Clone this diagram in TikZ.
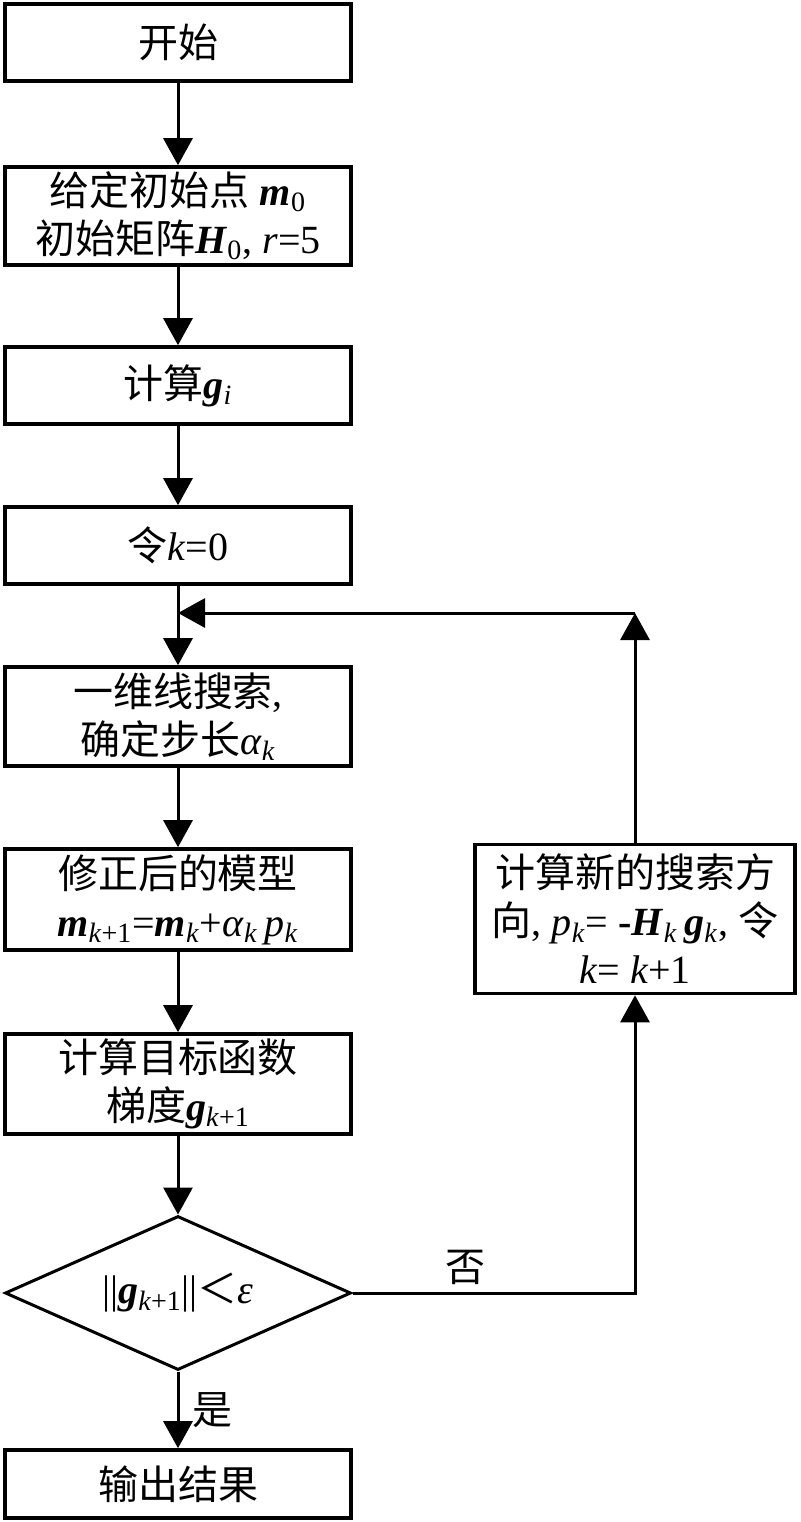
\documentclass[tikz,border=0pt]{standalone}
\usepackage{fontspec}
\setmainfont{Liberation Serif}
\newfontfamily\cjk{Noto Sans CJK SC}
\usetikzlibrary{shapes.geometric,arrows.meta}
\newcommand\zh[1]{{\cjk #1}}
\newcommand\bv[1]{\textbf{\textit{#1}}}
\newcommand\sbs[1]{\textsubscript{#1}}

\begin{document}
\begin{tikzpicture}[x=0.5pt, y=-0.5pt,
  box/.style={draw, line width=1.8pt, minimum width=173pt, align=center, inner sep=0pt, font=\fontsize{20}{24}\selectfont},
  cond/.style={box, diamond, aspect=2.24, line width=1.5pt, minimum height=77pt},
  arr/.style={line width=1.5pt, -{Triangle[length=13.5pt, width=14.5pt]}},
  lab/.style={font=\fontsize{20}{24}\selectfont}]
\useasboundingbox [fill=white] (0, 0) rectangle (800, 1522);

\node [box, minimum height=38.5pt] (start) at (178, 42.5) {\zh{开始}};
\node [box, minimum height=49pt] (init) at (178, 216) {\zh{给定初始点} \bv{m}\sbs{0}\\\zh{初始矩阵}\bv{H}\sbs{0}, \textit{r}=5};
\node [box, minimum height=38.5pt] (calcg) at (178, 385.5) {\zh{计算}\bv{g}\sbs{\textit{i}}};
\node [box, minimum height=38.5pt] (kzero) at (178, 545.5) {\zh{令}\textit{k}=0};
\node [box, minimum height=49.5pt] (search) at (178, 716.5) {\zh{一维线搜索},\\\zh{确定步长}\textit{α}\sbs{\textit{k}}};
\node [box, minimum height=50.5pt] (update) at (178, 899.5) {\zh{修正后的模型}\\\bv{m}\sbs{\textit{k}+1}=\bv{m}\sbs{\textit{k}}+\textit{α}\sbs{\textit{k}}\,\textit{p}\sbs{\textit{k}}};
\node [box, minimum height=50pt] (grad) at (178, 1084) {\zh{计算目标函数}\\\zh{梯度}\bv{g}\sbs{\textit{k}+1}};
\node [cond] (test) at (178, 1293) {||\bv{g}\sbs{\textit{k}+1}||\zh{＜}\textit{ε}};
\node [box, minimum height=34pt] (output) at (178, 1484) {\zh{输出结果}};
\node [box, minimum width=160pt, minimum height=74.5pt] (newdir) at (635, 919) {\zh{计算新的搜索方}\\\zh{向}, \textit{p}\sbs{\textit{k}}= \textbf{-}\bv{H}\sbs{\textit{k}}\,\bv{g}\sbs{\textit{k}}, \zh{令}\\\textit{k}= \textit{k}+1};

\coordinate (join) at (178, 613);
\coordinate (turn) at (newdir.north |- join);

\draw [arr] (start) -- (init);
\draw [arr] (init) -- (calcg);
\draw [arr] (calcg) -- (kzero);
\draw [arr] (kzero) -- (search);
\draw [arr] (search) -- (update);
\draw [arr] (update) -- (grad);
\draw [arr] (grad) -- (test);
\draw [arr] (test) -- (output) node [lab, midway, right, xshift=3pt] {\zh{是}};
\draw [arr] (test.east) -| (newdir.south) node [lab, pos=.2, above] {\zh{否}};
\draw [arr] (newdir.north) -- (turn);
\draw [arr] (turn) -- (join);
\end{tikzpicture}
\end{document}
